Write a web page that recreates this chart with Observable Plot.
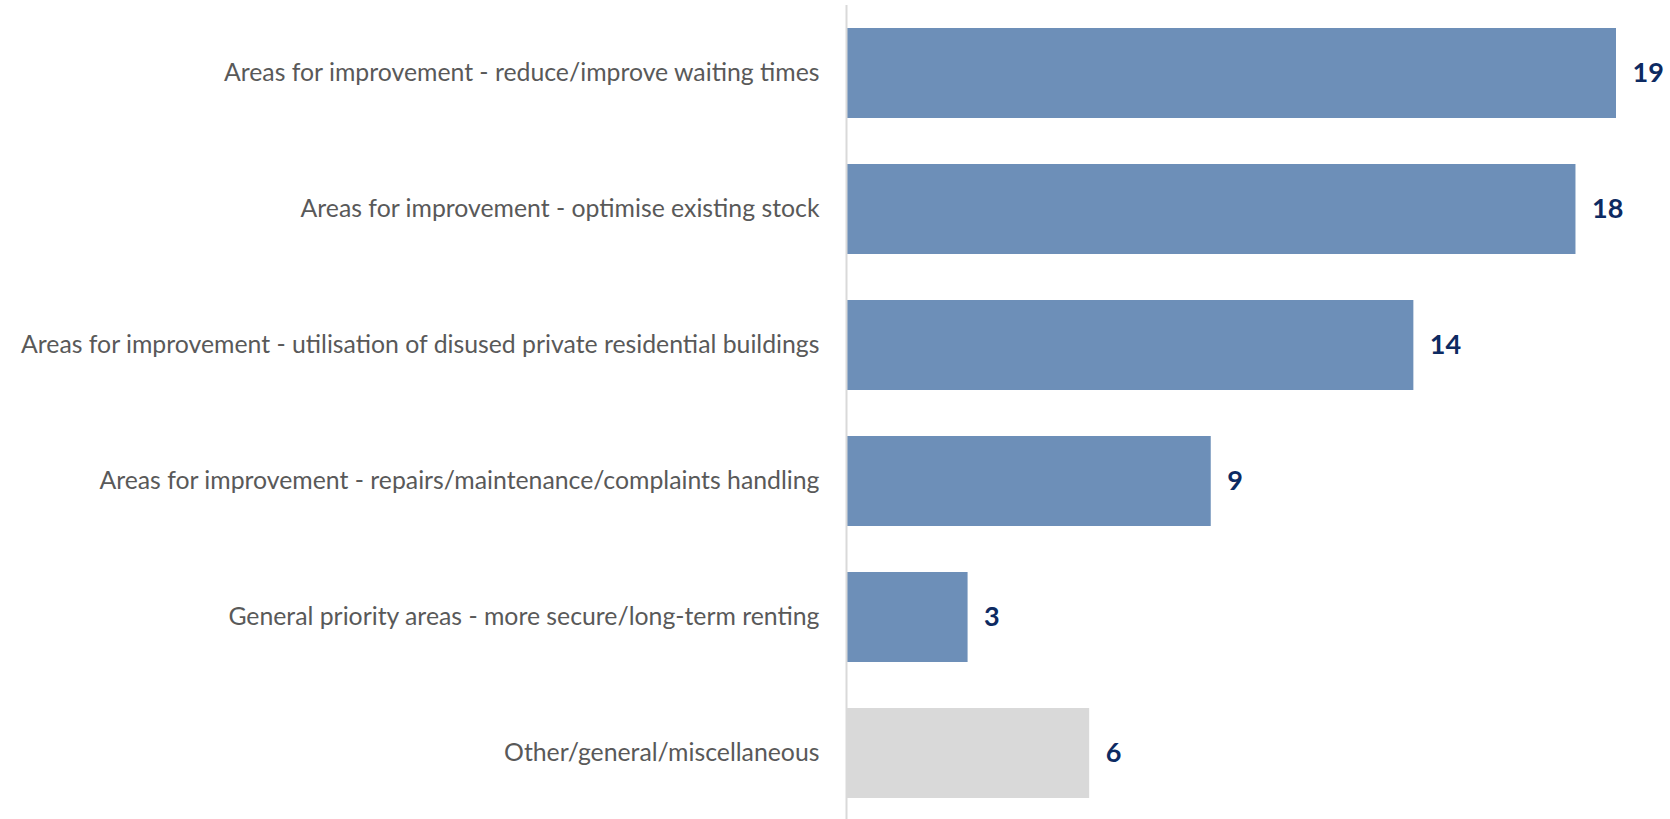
<!DOCTYPE html>
<html>
<head>
<meta charset="utf-8">
<script src="https://cdn.jsdelivr.net/npm/d3@7"></script>
<script src="https://cdn.jsdelivr.net/npm/@observablehq/plot@0.6"></script>
<style>
  html, body { margin: 0; padding: 0; background: #fff; }
  #chart { width: 1670px; height: 819px; }
</style>
</head>
<body>
<div id="chart"></div>
<script>
const categories = [
  "Areas for improvement - reduce/improve waiting times",
  "Areas for improvement - optimise existing stock",
  "Areas for improvement - utilisation of disused private residential buildings",
  "Areas for improvement - repairs/maintenance/complaints handling",
  "General priority areas - more secure/long-term renting",
  "Other/general/miscellaneous"
];
const values = [19, 18, 14, 9, 3, 6];
const groups = ["theme", "theme", "theme", "theme", "theme", "other"];

const data = categories.map((c, i) => ({category: c, value: values[i], group: groups[i]}));

const chart = Plot.plot({
  width: 1670,
  height: 819,
  marginLeft: 846,
  marginRight: 54,
  marginTop: 5,
  marginBottom: 0,
  style: {fontFamily: "Lato, 'Open Sans', sans-serif", background: "#fff"},
  x: {domain: [0, 19], axis: null},
  y: {domain: categories, paddingInner: 0.34, paddingOuter: 0.158, align: 0.53, label: null},
  color: {domain: ["theme", "other"], range: ["#6d8fb8", "#d9d9d9"]},
  marks: [
    Plot.barX(data, {y: "category", x: "value", fill: "group"}),
    Plot.ruleX([0], {stroke: "#d9d9d9", strokeWidth: 2}),
    Plot.axisY({tickSize: 0, tickPadding: 27, fontSize: 24.8, fill: "#595959", label: null}),
    Plot.text(data, {
      y: "category", x: "value", text: d => String(d.value),
      textAnchor: "start", dx: 16, fontSize: 27, fontWeight: "bold", fill: "#0d2a62"
    })
  ]
});
document.getElementById("chart").appendChild(chart);
</script>
</body>
</html>
